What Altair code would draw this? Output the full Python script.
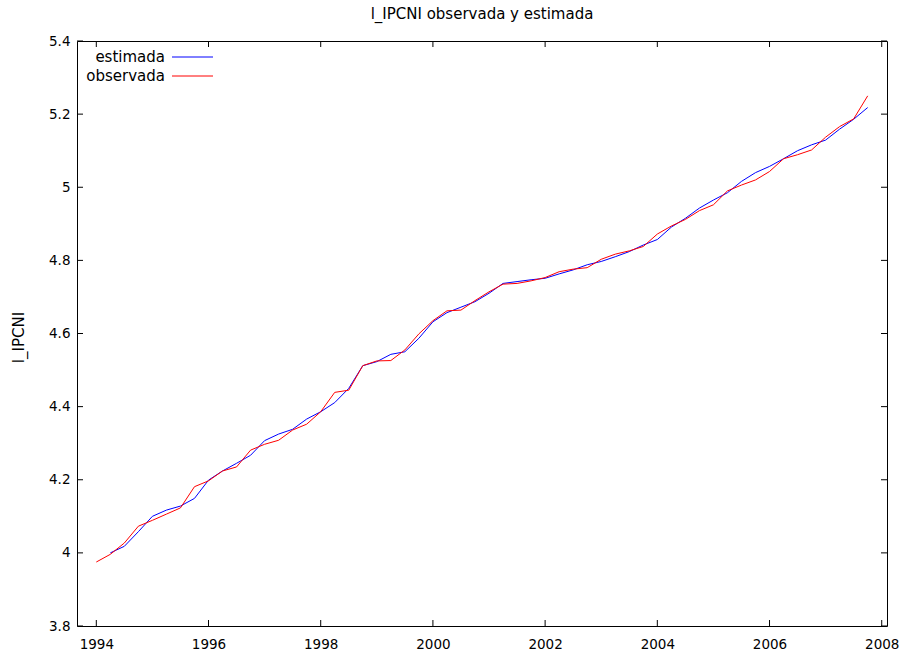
import altair as alt
import pandas as pd

# Quarterly time index 1994Q1 .. 2007Q4
years = list(range(1994, 2008))
quarters = [0.0, 0.25, 0.5, 0.75]

observada = [
    3.975, 3.996, 4.027, 4.073,
    4.089, 4.106, 4.123, 4.181,
    4.197, 4.224, 4.235, 4.281,
    4.297, 4.308, 4.336, 4.352,
    4.386, 4.439, 4.445, 4.512,
    4.525, 4.526, 4.555, 4.599,
    4.635, 4.662, 4.664, 4.690,
    4.714, 4.735, 4.737, 4.744,
    4.753, 4.769, 4.776, 4.780,
    4.803, 4.817, 4.826, 4.838,
    4.872, 4.894, 4.912, 4.936,
    4.952, 4.990, 5.006, 5.020,
    5.043, 5.078, 5.089, 5.102,
    5.137, 5.166, 5.187, 5.250,
]

estimada = [
    None, 4.000, 4.018, 4.058,
    4.100, 4.117, 4.128, 4.149,
    4.199, 4.224, 4.245, 4.267,
    4.307, 4.325, 4.338, 4.366,
    4.386, 4.411, 4.450, 4.512,
    4.523, 4.543, 4.550, 4.587,
    4.632, 4.657, 4.672, 4.687,
    4.710, 4.737, 4.742, 4.747,
    4.751, 4.763, 4.774, 4.788,
    4.797, 4.810, 4.824, 4.842,
    4.857, 4.891, 4.915, 4.943,
    4.965, 4.985, 5.016, 5.040,
    5.057, 5.078, 5.100, 5.116,
    5.129, 5.159, 5.186, 5.218,
]

x_ticks = [1994, 1996, 1998, 2000, 2002, 2004, 2006, 2008]
y_ticks = [3.8, 4.0, 4.2, 4.4, 4.6, 4.8, 5.0, 5.2, 5.4]

title_text = "l_IPCNI observada y estimada"
y_title = "l_IPCNI"
legend_names = ["estimada", "observada"]
legend_colors = ["#0000ff", "#ff0000"]

W, H = 810, 585
TICK = 6
FONT = "DejaVu Sans"
LABEL_SIZE = 13.5
TEXT_SIZE = 15

t = [y + q for y in years for q in quarters]
df_obs = pd.DataFrame({"t": t, "v": observada})
df_est = pd.DataFrame({"t": t, "v": estimada}).dropna()
df_xt = pd.DataFrame({"t": x_ticks})
df_yt = pd.DataFrame({"v": y_ticks})

xscale = alt.Scale(domain=[1993.656, 2008.094], nice=False, zero=False)
yscale = alt.Scale(domain=[3.8, 5.4], nice=False, zero=False)

xaxis = alt.Axis(values=x_ticks, format="d", title=None, labelPadding=11,
                 labelFont=FONT, labelFontSize=LABEL_SIZE, labelColor="black",
                 domain=False, ticks=False, grid=False)
yaxis = alt.Axis(values=y_ticks, format=".2~f", title=y_title, labelPadding=7,
                 labelFont=FONT, labelFontSize=LABEL_SIZE, labelColor="black",
                 titleFont=FONT, titleFontSize=TEXT_SIZE, titleFontWeight="normal",
                 titleColor="black", titleAngle=270, titleX=-59, titleY=296,
                 titleAlign="center", titleBaseline="middle",
                 domain=False, ticks=False, grid=False)

est_line = alt.Chart(df_est).mark_line(color=legend_colors[0], strokeWidth=1).encode(
    x=alt.X("t:Q", scale=xscale, axis=xaxis),
    y=alt.Y("v:Q", scale=yscale, axis=yaxis),
)
obs_line = alt.Chart(df_obs).mark_line(color=legend_colors[1], strokeWidth=1).encode(
    x=alt.X("t:Q", scale=xscale),
    y=alt.Y("v:Q", scale=yscale),
)

tick_style = dict(color="black", strokeWidth=1)
yt_left = alt.Chart(df_yt).mark_rule(**tick_style).encode(
    y=alt.Y("v:Q", scale=yscale), x=alt.value(0), x2=alt.value(TICK))
yt_right = alt.Chart(df_yt).mark_rule(**tick_style).encode(
    y=alt.Y("v:Q", scale=yscale), x=alt.value(W - TICK), x2=alt.value(W))
xt_bottom = alt.Chart(df_xt).mark_rule(**tick_style).encode(
    x=alt.X("t:Q", scale=xscale), y=alt.value(H - TICK), y2=alt.value(H))
xt_top = alt.Chart(df_xt).mark_rule(**tick_style).encode(
    x=alt.X("t:Q", scale=xscale), y=alt.value(0), y2=alt.value(TICK))

legend_layers = []
for i, (name, col) in enumerate(zip(legend_names, legend_colors)):
    ypos = 16 + i * 19
    legend_layers.append(
        alt.Chart(pd.DataFrame({"name": [name]})).mark_text(
            align="right", baseline="middle", font=FONT, fontSize=TEXT_SIZE, color="black"
        ).encode(text="name:N", x=alt.value(88), y=alt.value(ypos))
    )
    legend_layers.append(
        alt.Chart(pd.DataFrame({"name": [name]})).mark_rule(color=col, strokeWidth=1).encode(
            x=alt.value(95), x2=alt.value(136), y=alt.value(ypos))
    )

chart = alt.layer(
    est_line, obs_line, yt_left, yt_right, xt_bottom, xt_top, *legend_layers
).properties(
    width=W, height=H,
    title=alt.TitleParams(title_text, font=FONT, fontSize=TEXT_SIZE, fontWeight="normal",
                          color="black", anchor="middle", offset=12),
    autosize=alt.AutoSizeParams(type="none"),
    padding={"left": 77, "top": 41, "right": 19, "bottom": 32},
    background="white",
).configure_view(stroke="black", strokeWidth=1)

chart.save("out.html", embed_options={"renderer": "svg", "actions": False})
